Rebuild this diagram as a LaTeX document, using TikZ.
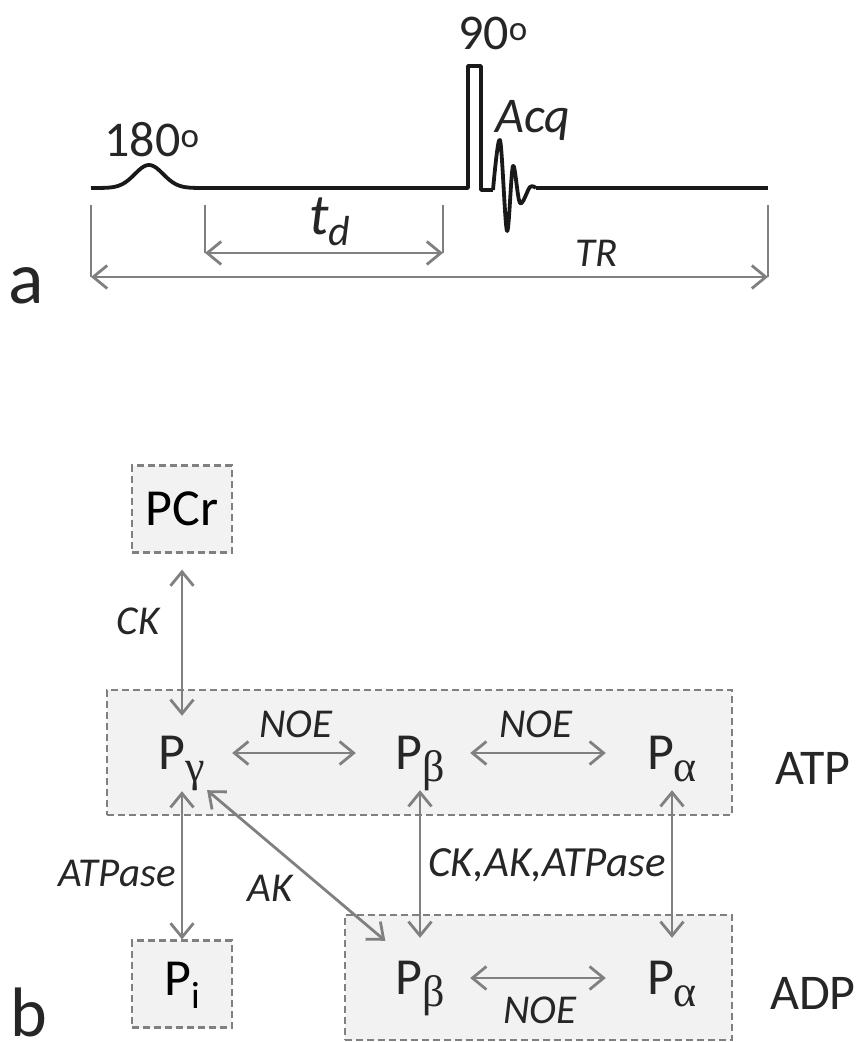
\documentclass[tikz,border=0pt]{standalone}
\usepackage{fontspec}
\setmainfont{Carlito}
\newfontfamily\greekfont{Liberation Serif}
\usepackage{xcolor}
\usetikzlibrary{arrows.meta}
\definecolor{linegray}{HTML}{808080}
\definecolor{boxfill}{HTML}{F2F2F2}
\newcommand{\fsz}[1]{\fontsize{#1}{#1}\selectfont}
\newcommand{\psub}[1]{\smash{\raisebox{-11pt}{P\raisebox{-0.25em}{\fsz{38}#1}}}}
\newcommand{\gsub}[1]{\smash{\raisebox{-16.5pt}{P\raisebox{-0.23em}{\fsz{44}\greekfont#1}}}}
\tikzset{
  pulse/.style={line width=3.8pt, black!90, line join=round},
  dimline/.style={line width=2.6pt, linegray},
  dbl/.style={line width=2.8pt, linegray, {Straight Barb[length=14pt,width=23pt,line width=2.8pt]}-{Straight Barb[length=14pt,width=23pt,line width=2.8pt]}},
  grpbox/.style={draw=linegray, fill=boxfill, dashed, dash pattern=on 7pt off 4pt, line width=2.2pt, inner sep=0pt},
  spin/.style={minimum width=100pt, minimum height=74pt, inner sep=0pt, font=\fsz{52}, text=black!85},
  lbl/.style={font=\fsz{41}\itshape, text=black!85, inner sep=0pt},
  txt/.style={font=\fsz{50}, text=black!85, inner sep=0pt}
}
\begin{document}
\begin{tikzpicture}[x=1pt, y=-1pt]
    \useasboundingbox (0,0) rectangle (855,1042);
    % Xung
    \draw[pulse, samples=60, domain=91:205] plot (\x, {188-23*exp(-((\x-149)/20)^2)});
    \draw[pulse] (205,188) -- (468,188) -- (468,66) -- (481,66) -- (481,190) -- (493,190);
    \draw[pulse, smooth, tension=0.55] plot coordinates {(493,190) (500,140) (507,231) (513,166) (520,203) (530,187) (536,188)};
    \draw[pulse] (536,188) -- (768,188);
    \node[txt] (p180) at (152,140) {180\textsuperscript{o}};
    \node[txt] (p90) at (493,33) {90\textsuperscript{o}};
    \node[lbl, font=\fsz{50}\itshape] (acq) at (533,120) {Acq};

    % Khoang thoi gian
    \coordinate (dA) at (205,205);
    \coordinate (dB) at (443,205);
    \coordinate (dC) at (205,253);
    \coordinate (dD) at (443,253);
    \coordinate (tA) at (91,205);
    \coordinate (tB) at (768,205);
    \coordinate (tC) at (91,277);
    \coordinate (tD) at (768,277);
    \draw[dimline] (dA) -- (dC);
    \draw[dimline] (dB) -- (dD);
    \draw[dimline] (tA) -- (tC);
    \draw[dimline] (tB) -- (tD);
    \draw[dbl] (dC) -- (dD);
    \draw[dbl] (tC) -- (tD);
    \node[lbl, font=\fsz{58}\itshape] (td) at (330,222) {t\raisebox{-0.2em}{\fsz{42}d}};
    \node[lbl] (tr) at (597,253) {TR};
    \node[txt, font=\fsz{74}] (a) at (26,286) {a};

    % Cac hop
    \node[grpbox, minimum width=100pt, minimum height=87pt] (pcr) at (182,509) {\fsz{52}PCr};
    \node[grpbox, minimum width=625pt, minimum height=125pt] (atp) at (419.5,752.5) {};
    \node[grpbox, minimum width=387pt, minimum height=125pt] (adp) at (538.5,977.5) {};
    \node[grpbox, minimum width=100pt, minimum height=87pt] (pi) at (182,984) {\fsz{52}\psub{i}};

    % Cac spin
    \node[spin] (pg) at (182,753) {\gsub{γ}};
    \node[spin] (pb) at (420,753) {\gsub{β}};
    \node[spin] (pa) at (672,753) {\gsub{α}};
    \node[spin] (qb) at (420,978) {\gsub{β}};
    \node[spin] (qa) at (672,978) {\gsub{α}};

    % Mui ten
    \draw[dbl, shorten <=16pt] (pcr) -- (pg);
    \draw[dbl, shorten <=1pt] (pg) -- (pi);
    \draw[dbl, shorten >=14pt] (pg) -- (pb);
    \draw[dbl, shorten >=16pt] (pb) -- (pa);
    \draw[dbl, shorten >=16pt] (qb) -- (qa);
    \draw[dbl, shorten >=3pt] (pb) -- (qb);
    \draw[dbl, shorten >=3pt] (pa) -- (qa);
    \draw[dbl] (pg.-56) -- (qb.133);

    % Nhan
    \node[lbl] (ck) at (138,621) {CK};
    \node[lbl] (noeA) at (296,724) {NOE};
    \node[lbl] (noeB) at (536,724) {NOE};
    \node[lbl] (noeC) at (540,1010) {NOE};
    \node[lbl] (ase) at (117,873) {ATPase};
    \node[lbl] (ak) at (270,888) {AK};
    \node[lbl, font=\fsz{43}\itshape] (all) at (547,865) {CK,AK,ATPase};
    \node[txt] (atpn) at (813,768) {ATP};
    \node[txt] (adpn) at (813,993) {ADP};
    \node[txt, font=\fsz{70}] (b) at (29,1012) {b};
\end{tikzpicture}
\end{document}
